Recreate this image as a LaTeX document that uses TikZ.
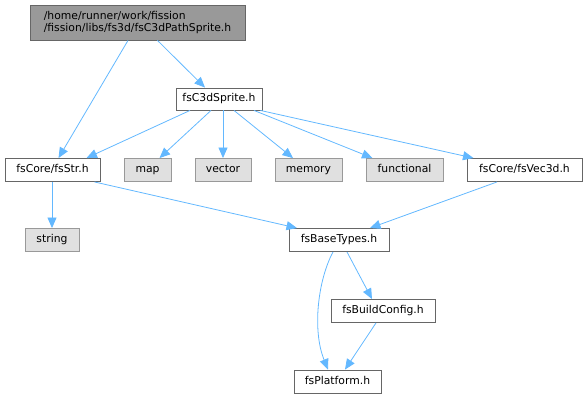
\documentclass[tikz,border=0pt]{standalone}
\usepackage{fontspec}
\setmainfont{DejaVu Sans}
\usetikzlibrary{arrows.meta}
\definecolor{edgeblue}{HTML}{63B8FF}
\definecolor{topfill}{HTML}{999999}
\definecolor{darkborder}{HTML}{666666}
\definecolor{sysfill}{HTML}{E0E0E0}
\definecolor{sysborder}{HTML}{999999}
\begin{document}
\begin{tikzpicture}[x=1pt,y=-1pt,
  every node/.style={font=\fontsize{10.8}{12}\selectfont, inner sep=0pt, minimum height=23pt},
  oneline/.style={text height=8pt, text depth=2.4pt},
  filebox/.style={oneline, draw=darkborder, fill=white, line width=0.9pt},
  sysbox/.style={oneline, draw=sysborder, fill=sysfill, line width=0.9pt},
  topbox/.style={draw=darkborder, fill=topfill, line width=0.9pt, align=left},
  dep/.style={draw=edgeblue, line width=0.8pt, -{Triangle[length=10.5pt,width=9pt]}}]
\useasboundingbox (0,0) rectangle (587,399);
\node[topbox, minimum width=215pt, minimum height=35pt] (top) at (137.5,22.5) {/home/runner/work/fission\\/fission/libs/fs3d/fsC3dPathSprite.h};
\node[filebox, minimum width=86pt, minimum height=22pt] (sprite) at (219,99) {fsC3dSprite.h};
\node[filebox, minimum width=95pt] (str) at (52.5,170) {fsCore/fsStr.h};
\node[sysbox, minimum width=47pt] (map) at (147.5,170) {map};
\node[sysbox, minimum width=56pt] (vector) at (223,170) {vector};
\node[sysbox, minimum width=67pt] (memory) at (308.5,170) {memory};
\node[sysbox, minimum width=77pt] (functional) at (404.5,170) {functional};
\node[filebox, minimum width=115pt] (vec) at (524.5,170) {fsCore/fsVec3d.h};
\node[sysbox, minimum width=54pt] (string) at (52,240) {string};
\node[filebox, minimum width=100pt] (base) at (339,240) {fsBaseTypes.h};
\node[filebox, minimum width=104pt] (build) at (383,311) {fsBuildConfig.h};
\node[filebox, minimum width=87pt] (plat) at (337.5,381.5) {fsPlatform.h};

\draw[dep] ([xshift=-9.5]top.south) -- ([xshift=6]str.north);
\draw[dep] ([xshift=20]top.south) -- ([xshift=-14]sprite.north);
\draw[dep] ([xshift=-29]sprite.south) -- ([xshift=34]str.north);
\draw[dep] ([xshift=-8]sprite.south) -- ([xshift=12]map.north);
\draw[dep] ([xshift=4]sprite.south) -- ([xshift=0]vector.north);
\draw[dep] ([xshift=15]sprite.south) -- ([xshift=-15.5]memory.north);
\draw[dep] ([xshift=35]sprite.south) -- ([xshift=-32]functional.north);
\draw[dep] ([xshift=-2]sprite.south east) -- ([xshift=-51]vec.north);
\draw[dep] ([xshift=-0.5]str.south) -- ([xshift=0]string.north);
\draw[dep] ([xshift=42]str.south) -- ([xshift=-42]base.north);
\draw[dep] ([xshift=-27.5]vec.south) -- ([xshift=31]base.north);
\draw[dep] ([xshift=8]base.south) -- ([xshift=-11]build.north);
\draw[dep] ([xshift=-6]base.south) .. controls (318,280) and (312,330) .. ([xshift=-9.5]plat.north);
\draw[dep] ([xshift=-7]build.south) -- ([xshift=7.5]plat.north);
\end{tikzpicture}
\end{document}
